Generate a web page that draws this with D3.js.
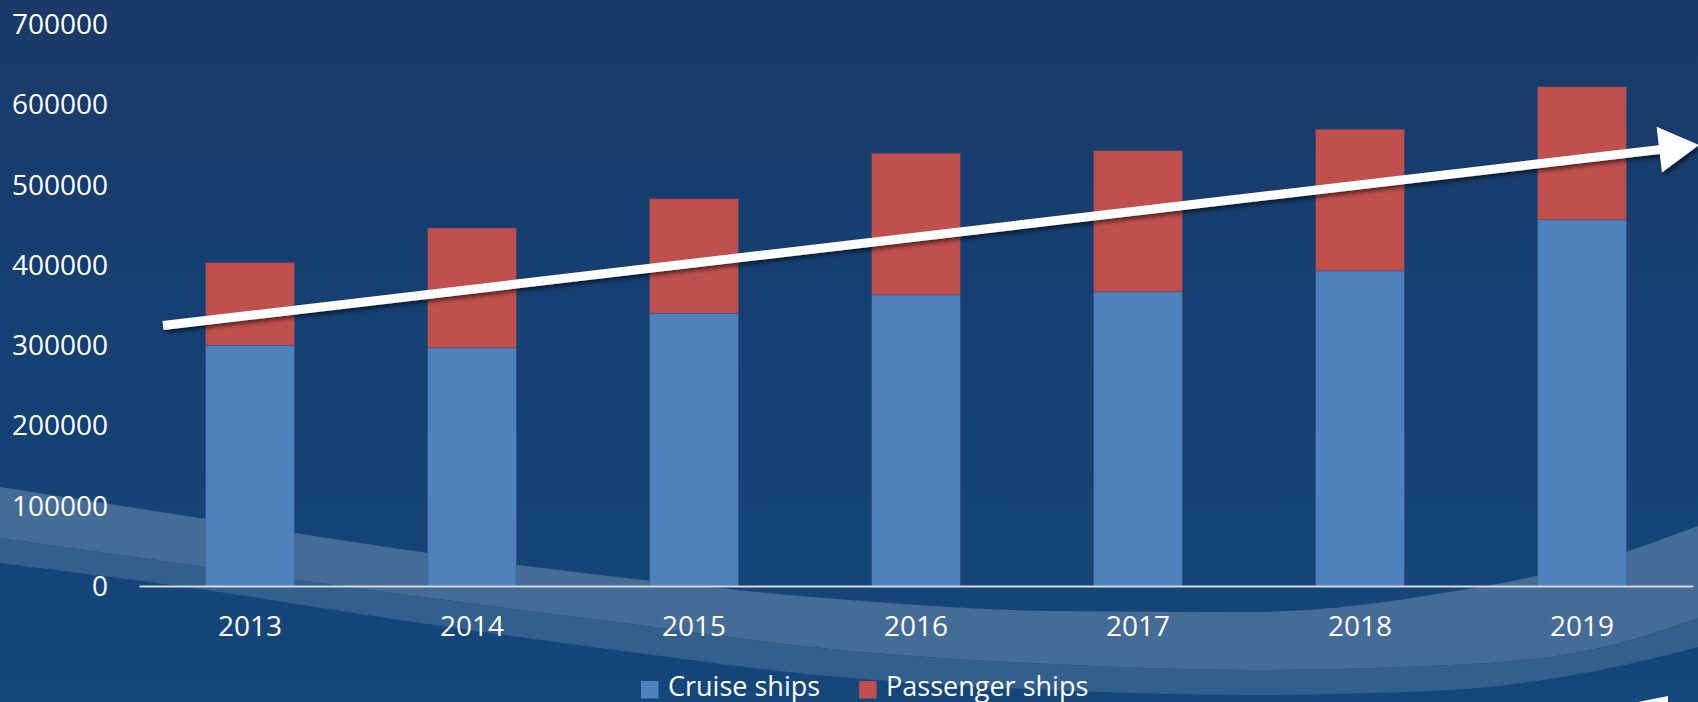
<!DOCTYPE html>
<html>
<head>
<meta charset="utf-8">
<script src="https://cdn.jsdelivr.net/npm/d3@7"></script>
<style>
  html, body { margin: 0; padding: 0; background: #15457a; overflow: hidden; }
  text { font-family: "Open Sans", "Noto Sans", sans-serif; fill: #ffffff; }
</style>
</head>
<body>
<div id="chart"></div>
<script>
// data
var years = ["2013", "2014", "2015", "2016", "2017", "2018", "2019"];
var cruiseShips = [300400, 297400, 340300, 363400, 367200, 393300, 456800];
var passengerShips = [103000, 149100, 142700, 176100, 175600, 176100, 165700];
var seriesNames = ["Cruise ships", "Passenger ships"];
var yTicks = [0, 100000, 200000, 300000, 400000, 500000, 600000, 700000];
// trend arrow, start and end level
var trendArrow = [325000, 550000];

var svgWidth = 1698;
var svgHeight = 702;

var plot = { left: 139, right: 1693, top: 24.5, bottom: 586.5 };
var colors = ["#4f81bd", "#c0504d"];

var svg = d3.select("#chart")
  .append("svg")
  .attr("width", svgWidth)
  .attr("height", svgHeight);

var defs = svg.append("defs");

// background gradient
var grad = defs.append("linearGradient")
  .attr("id", "bg")
  .attr("x1", 0).attr("y1", 0).attr("x2", 0).attr("y2", 1);
grad.append("stop").attr("offset", "0%").attr("stop-color", "#1a3a68");
grad.append("stop").attr("offset", "45%").attr("stop-color", "#154073");
grad.append("stop").attr("offset", "100%").attr("stop-color", "#15477b");

var shadow = defs.append("filter")
  .attr("id", "shadow")
  .attr("x", "-10%").attr("y", "-50%")
  .attr("width", "120%").attr("height", "200%");
shadow.append("feDropShadow")
  .attr("dx", 2).attr("dy", 3)
  .attr("stdDeviation", 2)
  .attr("flood-color", "#000000")
  .attr("flood-opacity", 0.55);

svg.append("rect")
  .attr("width", svgWidth)
  .attr("height", svgHeight)
  .attr("fill", "url(#bg)");

// decorative waves behind the chart
var waveX = [0, 206, 400, 600, 850, 1050, 1250, 1450, 1600, 1698];
var waveTop = [487, 519, 549, 575, 600, 611, 612, 592, 560, 526];
var waveMid = [538, 567, 594, 620, 651, 664, 670, 665, 648, 618];
var waveLow = [563, 590, 620, 648, 678, 690, 695, 690, 670, 647];

function band(upper, lower) {
  return d3.area()
    .x((d, i) => waveX[i])
    .y0((d, i) => upper[i])
    .y1((d, i) => lower[i])
    .curve(d3.curveMonotoneX)(waveX);
}

svg.append("path")
  .attr("d", band(waveTop, waveMid))
  .attr("fill", "#446c96");

svg.append("path")
  .attr("d", band(waveMid, waveLow))
  .attr("fill", "#325f8c");

svg.append("path")
  .attr("d", "M1638,702 L1668,696 L1668,702 Z")
  .attr("fill", "#ffffff");

// scales
var x = d3.scaleBand()
  .domain(years)
  .range([plot.left, plot.right])
  .paddingInner(0.6)
  .paddingOuter(0.3);

var y = d3.scaleLinear()
  .domain([0, 700000])
  .range([plot.bottom, plot.top]);

// stacked data
var table = years.map(function(yr, i) {
  return { year: yr, cruise: cruiseShips[i], passenger: passengerShips[i] };
});

var stacked = d3.stack().keys(["cruise", "passenger"])(table);

var chartGroup = svg.append("g");

chartGroup.selectAll("g.series")
  .data(stacked)
  .enter()
  .append("g")
  .attr("class", "series")
  .attr("fill", (d, i) => colors[i])
  .selectAll("rect")
  .data(d => d)
  .enter()
  .append("rect")
  .attr("x", d => x(d.data.year))
  .attr("y", d => y(d[1]))
  .attr("width", x.bandwidth())
  .attr("height", d => y(d[0]) - y(d[1]))
  .attr("stroke", "rgba(70,70,110,0.35)")
  .attr("stroke-width", 1);

// y axis
var leftAxis = d3.axisLeft(y)
  .tickValues(yTicks)
  .tickFormat(d3.format("d"))
  .tickSize(0)
  .tickPadding(31);

var yAxis = svg.append("g")
  .attr("transform", `translate(${plot.left}, 0)`)
  .call(leftAxis);
yAxis.select(".domain").remove();
yAxis.selectAll("text")
  .attr("font-size", 28)
  .attr("font-family", "'Open Sans', sans-serif")
  .attr("fill", "#ffffff");

// x axis
var bottomAxis = d3.axisBottom(x)
  .tickSize(0)
  .tickSizeOuter(0)
  .tickPadding(30.5);

var xAxis = svg.append("g")
  .attr("transform", `translate(0, ${plot.bottom - 0.5})`)
  .call(bottomAxis);
xAxis.select(".domain")
  .attr("stroke", "#d3d9e0")
  .attr("stroke-width", 2);
xAxis.selectAll("text")
  .attr("font-size", 28)
  .attr("font-family", "'Open Sans', sans-serif")
  .attr("fill", "#ffffff");

// trend arrow
var ax0 = plot.left + 24;
var ay0 = y(trendArrow[0]);
var ax1 = svgWidth + 1;
var ay1 = y(trendArrow[1]);
var dx = ax1 - ax0, dy = ay1 - ay0;
var len = Math.sqrt(dx * dx + dy * dy);
var ux = dx / len, uy = dy / len;
var nx = -uy, ny = ux;
var shaftHalf = 4.5, headHalf = 23, headLen = 40;
var bx = ax1 - ux * headLen, by = ay1 - uy * headLen;
var arrowPts = [
  [ax0 + nx * shaftHalf, ay0 + ny * shaftHalf],
  [bx + nx * shaftHalf, by + ny * shaftHalf],
  [bx + nx * headHalf, by + ny * headHalf],
  [ax1, ay1],
  [bx - nx * headHalf, by - ny * headHalf],
  [bx - nx * shaftHalf, by - ny * shaftHalf],
  [ax0 - nx * shaftHalf, ay0 - ny * shaftHalf]
];

svg.append("polygon")
  .attr("points", arrowPts.map(p => p.join(",")).join(" "))
  .attr("fill", "#ffffff")
  .attr("filter", "url(#shadow)");

// legend
var legend = svg.append("g")
  .attr("transform", "translate(641, 0)");

var lx = 0;
seriesNames.forEach(function(name, i) {
  legend.append("rect")
    .attr("x", lx)
    .attr("y", 681)
    .attr("width", 17.5)
    .attr("height", 17.5)
    .attr("fill", colors[i]);
  var t = legend.append("text")
    .attr("x", lx + 27)
    .attr("y", 696)
    .attr("font-size", 27)
    .text(name);
  lx += 27 + t.node().getComputedTextLength() + 39;
});
</script>
</body>
</html>
